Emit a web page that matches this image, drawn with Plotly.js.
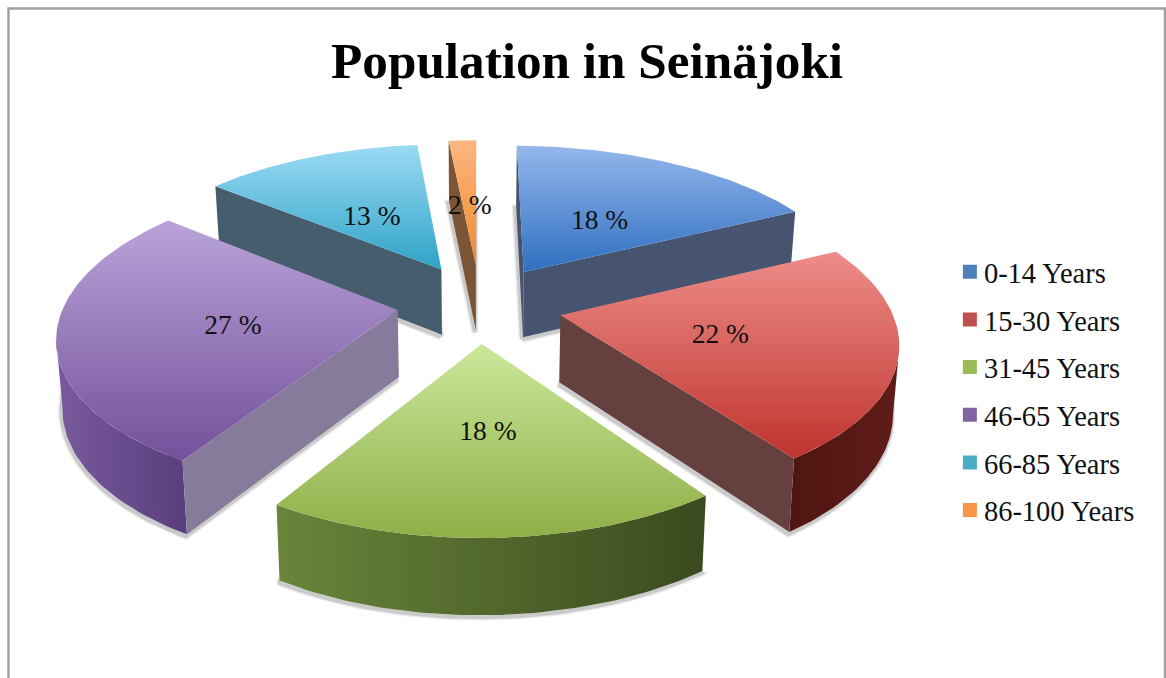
<!DOCTYPE html><html><head><meta charset="utf-8"><script src="https://cdn.plot.ly/plotly-3.0.1.min.js"></script>
<style>html,body{margin:0;background:#fff;overflow:hidden}#c{width:1166px;height:678px}</style></head><body><div id="c"></div>
<script>
const categories=["0-14 Years","15-30 Years","31-45 Years","46-65 Years","66-85 Years","86-100 Years"];
const values=[18,22,18,27,13,2];
const topColors=[["#94b6ec","#2f6fc0"],["#ee8d89","#bf332e"],["#cbe89a","#8fae47"],["#baa3d9","#73509a"],["#9bdbf4","#2ea2c7"],["#fcb680","#ef8a2e"]];
const faceColors=["#465470","#65403f","#556b2c","#877b9c","#465d6d","#7b5535"];
const wallColors=[["#3f5f8c","#2f4a72"],["#4f1512","#601c18"],["#69853a","#3a4a1f"],["#7a5a9e","#593e7d"],["#2f7f9c","#256b85"],["#a8642a","#8a5224"]];
const swatchColors=["#4f81bd","#c0504d","#9bbb59","#8064a2","#4bacc6","#f79646"];
const drawOrder=[4,5,0,3,1,2];
const CAM={x0:477.7,yh:-525.4,F:1806,H:4522,D:5.493,e:0.249,rot:1.5};
const WALL={a:31,b:196,conv:0.985};
const LABEL_R=0.49,LABEL_DY=7,ARC_STEPS=70;
const apexNudge=[[2,4],[3,7],[1,7],[1,5],[2,3],[1,3]];
const arcNudge=[[0,-4],[0,1],[-2,-2],[0,-1],[-1,-4],[-3,-5]];
const arcScaleX=[1.04,1,0.977,1,1,0.82];
let acc=0;const ang=values.map(v=>{const a=[acc*3.6,(acc+v)*3.6];acc+=v;return a;});
const RAD=Math.PI/180;
function project(i,r,t,n){const m=(ang[i][0]+ang[i][1])/2+CAM.rot,th=(t+CAM.rot)*RAD;
 const X=r*Math.sin(th)+CAM.e*Math.sin(m*RAD),Z=r*Math.cos(th)+CAM.e*Math.cos(m*RAD),w=1/(Z+CAM.D);
 const x=CAM.x0+CAM.F*X*w,y=CAM.yh+CAM.H*w;
 const bx=CAM.x0+(x-CAM.x0)*WALL.conv,by=y+WALL.a+WALL.b*w;
 return {x:x+n[0],y:y+n[1],bx:bx+n[0],by:by+n[1]};}
function arc(i){const a=ang[i],o=[];for(let n=0;n<=ARC_STEPS;n++)o.push(project(i,1,a[0]+(a[1]-a[0])*n/ARC_STEPS,arcNudge[i]));
 const cx=(o[0].x+o[ARC_STEPS].x)/2,s=arcScaleX[i];
 o.forEach(p=>{p.x=cx+(p.x-cx)*s;p.bx=cx+(p.bx-cx)*s;});return o;}
function poly(pts,extra){return Object.assign({type:'scatter',mode:'lines',x:pts.map(p=>p[0]),y:pts.map(p=>p[1]),line:{width:0},fill:'toself',hoverinfo:'skip',showlegend:false},extra);}
const traces=[];
drawOrder.forEach(i=>{
 const ap=project(i,0,0,apexNudge[i]),A=arc(i),S=A[0],E=A[A.length-1];
 const bottom=[[ap.bx,ap.by],...A.map(p=>[p.bx,p.by]),[ap.bx,ap.by]];
 [[7,'rgba(70,70,70,0.10)'],[4,'rgba(70,70,70,0.20)']].forEach(([wd,c])=>{
  traces.push({type:'scatter',mode:'lines',x:bottom.map(p=>p[0]-1),y:bottom.map(p=>p[1]+2),line:{width:wd,color:c},hoverinfo:'skip',showlegend:false});});
 const vis=[];for(let n=0;n<A.length-1;n++){if(A[n+1].x<A[n].x){vis.push(A[n],A[n+1]);}}
 if(vis.length){const wall=[...vis.map(p=>[p.x,p.y]),...vis.slice().reverse().map(p=>[p.bx,p.by])];
  traces.push(poly(wall,{fillgradient:{type:'horizontal',colorscale:[[0,wallColors[i][0]],[1,wallColors[i][1]]]}}));}
 [[ap,S],[E,ap]].forEach(([a,b])=>{if(b.x<a.x){traces.push(poly([[a.x,a.y],[b.x,b.y],[b.bx,b.by],[a.bx,a.by]],{fillcolor:faceColors[i]}));}});
 const top=[[ap.x,ap.y],...A.map(p=>[p.x,p.y]),[ap.x,ap.y]];
 traces.push(poly(top,{fillgradient:{type:'vertical',colorscale:[[0,topColors[i][1]],[1,topColors[i][0]]]}}));
});
const lab=values.map((v,i)=>{const m=(ang[i][0]+ang[i][1])/2;return project(i,LABEL_R,m,[0,LABEL_DY]);});
traces.push({type:'scatter',mode:'text',x:lab.map(p=>p.x),y:lab.map(p=>p.y),text:values.map(v=>v+' %'),textposition:'middle center',textfont:{family:'"Liberation Serif",serif',size:27.5,color:'#111'},hoverinfo:'skip',showlegend:false});
categories.forEach((c,i)=>traces.push({type:'scatter',mode:'markers',x:[null],y:[null],name:c,legendgroup:c,marker:{symbol:'square',size:14,color:swatchColors[i]}}));
const layout={width:1166,height:678,margin:{l:0,r:0,t:0,b:0},paper_bgcolor:'#fff',plot_bgcolor:'#fff',
 title:{text:'<b>Population in Seinäjoki</b>',x:0.5035,xanchor:'center',y:0.911,yanchor:'middle',font:{family:'"Liberation Serif",serif',size:51.2,color:'#000'}},
 xaxis:{range:[0,1166],visible:false,fixedrange:true},yaxis:{range:[678,0],visible:false,fixedrange:true},
 showlegend:true,legend:{x:0.8095,y:0.636,xanchor:'left',yanchor:'top',tracegroupgap:7.6,font:{family:'"Liberation Serif",serif',size:28.5,color:'#111'},bgcolor:'rgba(0,0,0,0)',itemwidth:30},
 shapes:[{type:'path',xref:'x',yref:'y',path:'M8.5,690 L8.5,8.5 L1165,8.5 L1165,690',line:{color:'#a3a3a3',width:2.5}}]};
Plotly.newPlot('c',traces,layout,{displayModeBar:false,staticPlot:true}).then(()=>{
 document.querySelectorAll('.legend .legendpoints').forEach(g=>g.setAttribute('transform','translate(6,0)'));
});
</script></body></html>
